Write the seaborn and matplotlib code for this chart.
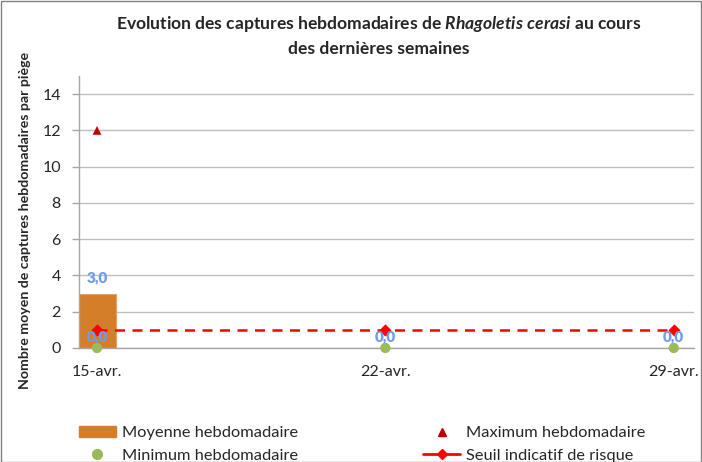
import matplotlib
matplotlib.use("Agg")
import matplotlib.pyplot as plt
import seaborn as sns
import pandas as pd
from matplotlib.lines import Line2D
from matplotlib.patches import Patch, Rectangle

# ---- data ----
dates = ["15-avr.", "22-avr.", "29-avr."]
moyenne = [3.0, 0.0, 0.0]
maximum = [12.0, 0.0, 0.0]
minimum = [0.0, 0.0, 0.0]
seuil = [1.0, 1.0, 1.0]
yticks = [0, 2, 4, 6, 8, 10, 12, 14]

sns.set_theme(style="white")
plt.rcParams["font.family"] = ["Lato", "DejaVu Sans"]
plt.rcParams["mathtext.fontset"] = "custom"
plt.rcParams["mathtext.it"] = "Lato:bold:italic"
plt.rcParams["mathtext.rm"] = "Lato:bold"

df = pd.DataFrame({"date": dates, "pos": range(len(dates)), "moyenne": moyenne,
                   "maximum": maximum, "minimum": minimum, "seuil": seuil})

fig = plt.figure(figsize=(7.02, 4.62), dpi=100)
ax = fig.add_axes([0.1125, 0.2468, 0.876, 0.5887])

bar_c = "#D47E2A"
sns.barplot(data=df, x="pos", y="moyenne", native_scale=True, width=0.132,
            color=bar_c, edgecolor="#E8A060", linewidth=0.8, saturation=1, ax=ax, zorder=2)
sns.lineplot(data=df, x="pos", y="seuil", color="#FF0000", linestyle=(0, (4, 3)),
             linewidth=1.8, ax=ax, zorder=3)
ax.scatter(df["pos"], df["seuil"], marker="D", s=28, color="#FF0000", zorder=4)
sns.scatterplot(data=df, x="pos", y="maximum", marker="^", s=40, color="#C00000",
                edgecolor="none", ax=ax, zorder=4)
sns.scatterplot(data=df, x="pos", y="minimum", marker="o", s=55, color="#9BBB59",
                edgecolor="none", ax=ax, zorder=5, clip_on=False)

lab_c = "#6F9BEA"
for p, m in zip(df["pos"], moyenne):
    txt = f"{m:.1f}".replace(".", ",")
    if m > 0:
        ax.text(p, m + 0.5, txt, ha="center", va="bottom", color=lab_c,
                fontsize=11, fontweight="heavy", zorder=6)
    ax.text(p, 0.62, "0,0", ha="center", va="center", color=lab_c,
            fontsize=11, fontweight="heavy", zorder=6)

ax.set_xlim(-0.0625, 2.07)
ax.set_ylim(0, 15)
ax.set_yticks(yticks)
ax.set_yticklabels([str(t) for t in yticks], fontsize=11.5)
ax.set_xticks(list(df["pos"]))
ax.set_xticklabels(dates, fontsize=11.5)
ax.tick_params(axis="x", length=0, pad=12)
ax.tick_params(axis="y", length=5, width=1, color="#A6A6A6", pad=8, left=True)
ax.grid(axis="y", color="#BFBFBF", linewidth=1)
ax.set_axisbelow(True)
for s in ["top", "right"]:
    ax.spines[s].set_visible(False)
for s in ["left", "bottom"]:
    ax.spines[s].set_color("#A6A6A6")
    ax.spines[s].set_linewidth(1)
ax.set_xlabel("")
ax.set_ylabel("Nombre moyen de captures hebdomadaires par piège", fontsize=10.2,
              fontweight="bold", labelpad=10)
ax.yaxis.set_label_coords(-0.078, 0.47)

fig.text(0.54, 0.948, "Evolution des captures hebdomadaires de $\\it{Rhagoletis\\ cerasi}$ au cours",
         ha="center", va="center", fontsize=12.6, fontweight="bold")
fig.text(0.54, 0.894, "des dernières semaines", ha="center", va="center",
         fontsize=12.6, fontweight="bold")

handles = [
    Patch(facecolor=bar_c, edgecolor=bar_c),
    Line2D([], [], marker="o", color="#9BBB59", linestyle="none", markersize=7),
    Line2D([], [], marker="^", color="#C00000", linestyle="none", markersize=6),
    Line2D([], [], marker="D", color="#FF0000", linestyle="-", linewidth=2, markersize=5),
]
labels = ["Moyenne hebdomadaire", "Minimum hebdomadaire",
          "Maximum hebdomadaire", "Seuil indicatif de risque"]
fig.legend(handles, labels, ncol=2, loc="upper left", bbox_to_anchor=(0.112, 0.078),
           frameon=False, fontsize=11.8, handlelength=2.3, handletextpad=0.35,
           columnspacing=7.6, labelspacing=0.5, borderpad=0, borderaxespad=0)

fig.patches.append(Rectangle((0.001, 0.001), 0.998, 0.997, transform=fig.transFigure,
                             fill=False, edgecolor="#808080", linewidth=1))
fig.savefig("out.png", dpi=100)
